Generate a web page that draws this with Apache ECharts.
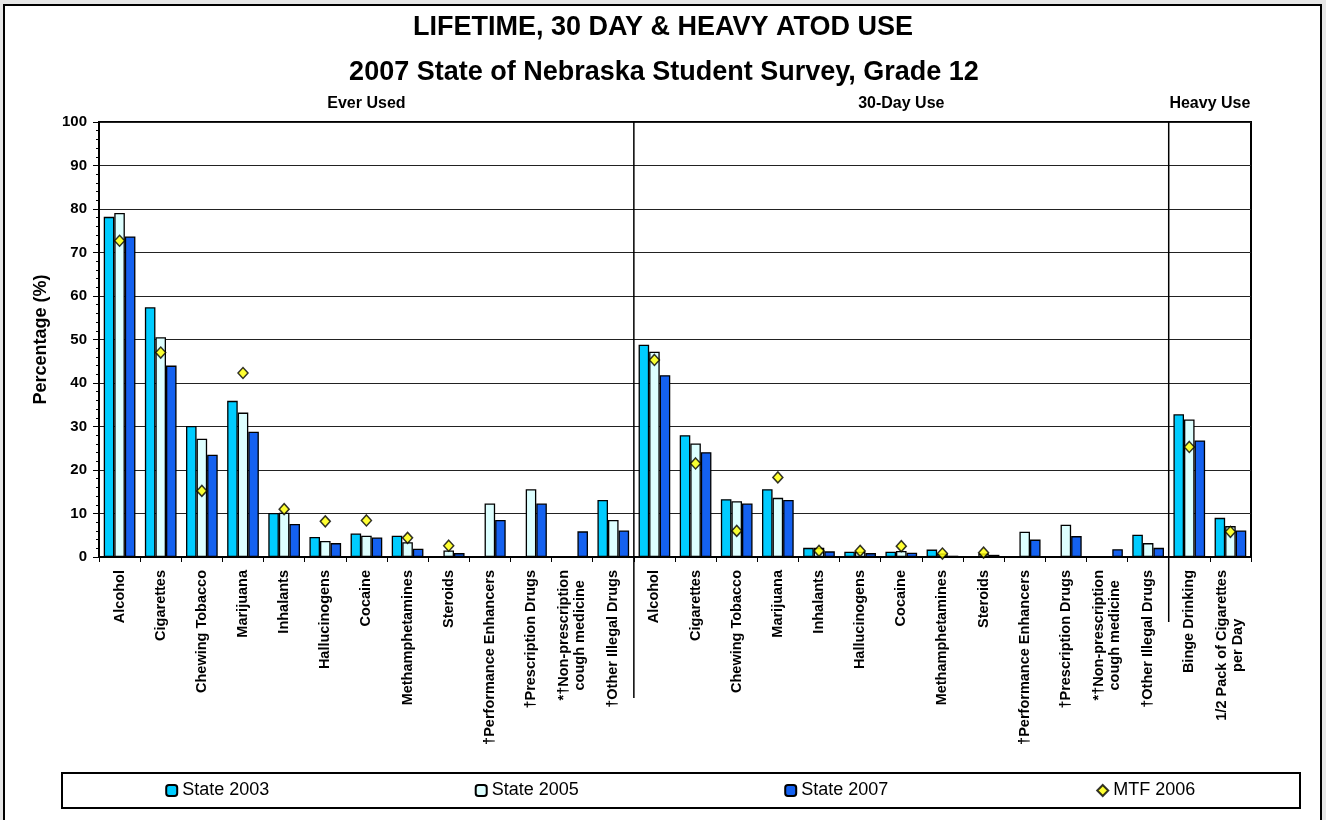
<!DOCTYPE html>
<html>
<head>
<meta charset="utf-8">
<script src="https://cdn.jsdelivr.net/npm/echarts@6/dist/echarts.min.js"></script>
<style>
html,body{margin:0;padding:0;background:#e6e6e6;}
#c{width:1326px;height:820px;}
</style>
</head>
<body>
<div id="c"></div>
<script>
// ---------- DATA ----------
const everUsedCategories = ['Alcohol','Cigarettes','Chewing Tobacco','Marijuana','Inhalants','Hallucinogens','Cocaine','Methamphetamines','Steroids','†Performance Enhancers','†Prescription Drugs','*†Non-prescription\ncough medicine','†Other Illegal Drugs'];
const thirtyDayCategories = ['Alcohol','Cigarettes','Chewing Tobacco','Marijuana','Inhalants','Hallucinogens','Cocaine','Methamphetamines','Steroids','†Performance Enhancers','†Prescription Drugs','*†Non-prescription\ncough medicine','†Other Illegal Drugs'];
const heavyUseCategories = ['Binge Drinking','1/2 Pack of Cigarettes\nper Day'];
const sectionNames = ['Ever Used','30-Day Use','Heavy Use'];
const seriesNames = ['State 2003','State 2005','State 2007','MTF 2006'];

const state2003Ever  = [78.2,57.4,30.1,35.9,10.1,4.6,5.4,4.9,null,null,null,null,13.1];
const state2003Day30 = [48.8,28.0,13.3,15.6,2.1,1.2,1.2,1.7,null,null,null,null,5.1];
const state2003Heavy = [32.8,9.0];

const state2005Ever  = [79.1,50.5,27.2,33.2,10.2,3.7,4.9,3.4,1.5,12.3,15.6,null,8.5];
const state2005Day30 = [47.2,26.1,12.8,13.6,2.1,1.2,1.4,0.8,0.8,5.8,7.4,null,3.2];
const state2005Heavy = [31.6,7.1];

const state2007Ever  = [73.7,44.0,23.5,28.8,7.6,3.2,4.5,1.9,0.9,8.5,12.3,5.9,6.1];
const state2007Day30 = [41.8,24.1,12.3,13.1,1.3,0.9,1.0,0.3,0.5,4.0,4.8,1.8,2.1];
const state2007Heavy = [26.8,6.1];

const mtf2006Ever  = [72.7,47.0,15.2,42.3,11.0,8.2,8.4,4.4,2.6,null,null,null,null];
const mtf2006Day30 = [45.3,21.5,6.0,18.3,1.4,1.4,2.5,0.8,1.0,null,null,null,null];
const mtf2006Heavy = [25.3,5.8];

const yMin = 0, yMax = 100, yInterval = 10;

// ---------- BUILD ----------
const FONT = '"Liberation Sans", Arial, Helvetica, sans-serif';
const sections = [everUsedCategories, thirtyDayCategories, heavyUseCategories];
const axisData = [];
sections.forEach((cats, s) => cats.forEach(c => axisData.push(s + ':' + c)));
const join = (a, b, c) => a.concat(b, c);

const colors = ['#00CCFF', '#DDFFFF', '#1461F0'];
const barSets = [
  join(state2003Ever, state2003Day30, state2003Heavy),
  join(state2005Ever, state2005Day30, state2005Heavy),
  join(state2007Ever, state2007Day30, state2007Heavy)
];
const mtfAll = join(mtf2006Ever, mtf2006Day30, mtf2006Heavy);

const series = barSets.map((d, i) => ({
  name: seriesNames[i],
  type: 'bar',
  data: d,
  barGap: '0%',
  barCategoryGap: '23%',
  itemStyle: { color: colors[i], borderColor: '#000', borderWidth: 1.3 },
  emphasis: { disabled: true },
  z: 2
}));
series.push({
  name: seriesNames[3],
  type: 'scatter',
  data: mtfAll,
  symbol: 'diamond',
  symbolSize: [10, 11],
  itemStyle: { color: '#FFFF00', borderColor: '#000', borderWidth: 1.5 },
  emphasis: { disabled: true },
  z: 4
});

const ctx = document.createElement('canvas').getContext('2d');
function textW(t, size, weight) { ctx.font = (weight || 'normal') + ' ' + size + 'px ' + FONT; return ctx.measureText(t).width; }

const legendBox = { x1: 62, x2: 1300, y1: 773, y2: 808 };
const cellW = (legendBox.x2 - legendBox.x1) / 4;
const legends = seriesNames.map((n, i) => ({
  data: [n],
  left: legendBox.x1 + cellW * (i + 0.5) - (11 + 5 + textW(n, 18)) / 2,
  top: (legendBox.y1 + legendBox.y2) / 2 - 9,
  padding: 0,
  itemWidth: 11,
  itemHeight: 11,
  selectedMode: false,
  textStyle: { fontSize: 18, color: '#000', fontFamily: FONT }
}));

const option = {
  animation: false,
  backgroundColor: '#e6e6e6',
  textStyle: { fontFamily: FONT },
  grid: { left: 99, right: 75, top: 122, bottom: 263, show: true, borderColor: '#000', borderWidth: 2, backgroundColor: 'transparent' },
  legend: legends,
  xAxis: {
    type: 'category',
    data: axisData,
    axisLine: { lineStyle: { color: '#000', width: 2 } },
    axisTick: { show: true, length: 5, lineStyle: { color: '#000', width: 1 } },
    axisLabel: {
      interval: 0,
      rotate: 90,
      margin: 13,
      formatter: v => {
        const t = v.slice(v.indexOf(':') + 1);
        return t.split('\n').map(l => '{c|' + l + '}').join('\n');
      },
      rich: { c: { align: 'center', fontSize: 14.5, fontWeight: 'bold', color: '#000', fontFamily: FONT, lineHeight: 16 } }
    },
    splitLine: { show: false }
  },
  yAxis: {
    type: 'value',
    min: yMin, max: yMax, interval: yInterval,
    name: 'Percentage (%)',
    nameLocation: 'middle',
    nameGap: 49,
    nameTextStyle: { fontSize: 18, fontWeight: 'bold', color: '#000', fontFamily: FONT },
    axisLine: { show: true, lineStyle: { color: '#000', width: 2 } },
    axisTick: { show: true, length: 6, lineStyle: { color: '#000', width: 1 } },
    minorTick: { show: true, splitNumber: 5, length: 3, lineStyle: { color: '#000', width: 1 } },
    axisLabel: { fontSize: 15, fontWeight: 'bold', color: '#000', margin: 12, fontFamily: FONT },
    splitLine: { show: true, lineStyle: { color: '#222', width: 1 } }
  },
  series: series
};

const chart = echarts.init(document.getElementById('c'));
chart.setOption(option);

// ---------- DECORATIONS (computed from axes) ----------
const c0 = chart.convertToPixel({ xAxisIndex: 0 }, 0);
const c1 = chart.convertToPixel({ xAxisIndex: 0 }, 1);
const band = c1 - c0;
const edge = k => c0 - band / 2 + k * band;
const yTop = chart.convertToPixel({ yAxisIndex: 0 }, yMax);
const b1 = everUsedCategories.length;
const b2 = b1 + thirtyDayCategories.length;
const b3 = b2 + heavyUseCategories.length;
const sectionBounds = [[0, b1], [b1, b2], [b2, b3]];

const graphics = [
  { type: 'rect', z: -10, shape: { x: 4, y: 5, width: 1317, height: 830 }, style: { fill: '#fff', stroke: '#000', lineWidth: 2 } },
  { type: 'rect', z: -5, shape: { x: legendBox.x1, y: legendBox.y1, width: legendBox.x2 - legendBox.x1, height: legendBox.y2 - legendBox.y1 }, style: { fill: '#fff', stroke: '#000', lineWidth: 2 } },
  { type: 'text', x: 663, y: 28, style: { text: 'LIFETIME, 30 DAY & HEAVY ATOD USE', font: 'bold 27px ' + FONT, fill: '#000', align: 'center', verticalAlign: 'middle' } },
  { type: 'text', x: 664, y: 73, style: { text: '2007 State of Nebraska Student Survey, Grade 12', font: 'bold 27px ' + FONT, fill: '#000', align: 'center', verticalAlign: 'middle' } },
  { type: 'line', z: 10, shape: { x1: edge(b1), y1: yTop, x2: edge(b1), y2: 698 }, style: { stroke: '#000', lineWidth: 1.5 } },
  { type: 'line', z: 10, shape: { x1: edge(b2), y1: yTop, x2: edge(b2), y2: 622 }, style: { stroke: '#000', lineWidth: 1.5 } }
];
sectionBounds.forEach((sb, i) => {
  graphics.push({ type: 'text', x: (edge(sb[0]) + edge(sb[1])) / 2, y: 104, style: { text: sectionNames[i], font: 'bold 16px ' + FONT, fill: '#000', align: 'center', verticalAlign: 'middle' } });
});
chart.setOption({ graphic: graphics });
</script>
</body>
</html>
